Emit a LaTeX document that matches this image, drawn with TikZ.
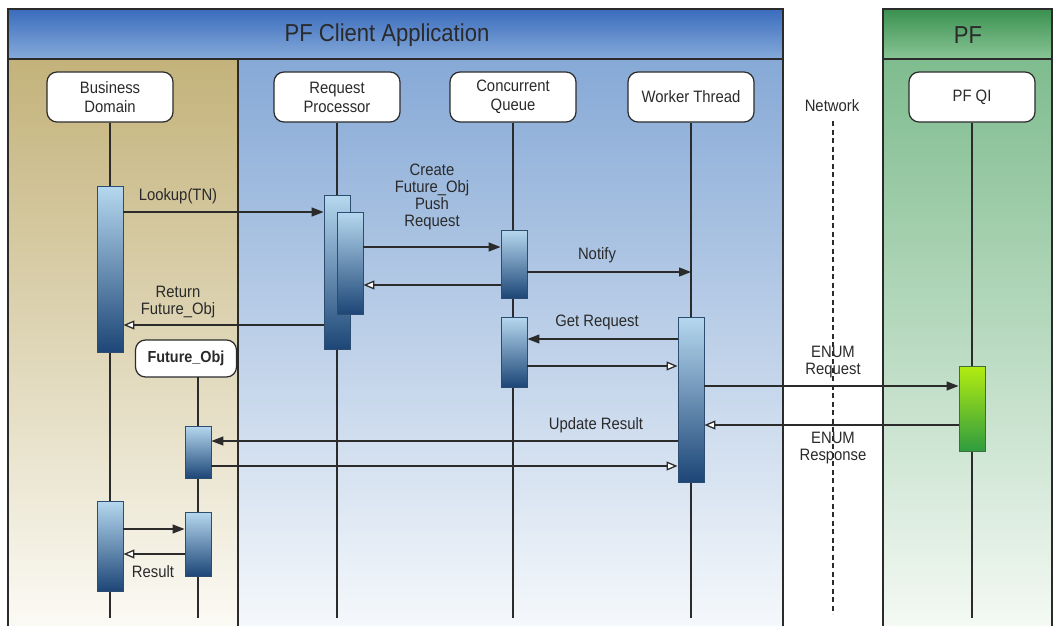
\documentclass[tikz,border=0pt]{standalone}
\usepackage{fontspec}
\setmainfont{Liberation Sans}[FakeStretch=0.9]
\usetikzlibrary{arrows.meta,calc}
\definecolor{linec}{HTML}{2B2B2B}
\definecolor{txt}{HTML}{2A2A2A}
\definecolor{hbTop}{HTML}{3A6CBD}
\definecolor{hbBot}{HTML}{86ABDA}
\definecolor{rbTop}{HTML}{86A9D6}
\definecolor{rbBot}{HTML}{F5F8FB}
\definecolor{tanTop}{HTML}{C3B27A}
\definecolor{tanBot}{HTML}{FBFAF4}
\definecolor{hgTop}{HTML}{3A9150}
\definecolor{hgBot}{HTML}{8AC596}
\definecolor{rgTop}{HTML}{7FBC8E}
\definecolor{rgBot}{HTML}{F4F9F4}
\definecolor{barTop}{HTML}{B6D8EF}
\definecolor{barBot}{HTML}{1D4677}
\definecolor{barEdge}{HTML}{2D4D70}
\definecolor{pfTop}{HTML}{B3EC10}
\definecolor{pfBot}{HTML}{2F9C40}
\definecolor{pfEdge}{HTML}{3C6E3C}
\begin{document}
\begin{tikzpicture}[x=1pt,y=-1pt,
  lbl/.style={font=\fontsize{16.5}{17}\selectfont, text=txt, align=center, inner sep=0pt},
  headbox/.style={draw=linec, fill=white, rounded corners=10pt, minimum width=126pt, minimum height=50pt, line width=1.2pt, font=\fontsize{16.5}{19}\selectfont, text=txt, align=center},
  bar/.style={draw=barEdge, top color=barTop, bottom color=barBot, minimum width=26pt, inner sep=0pt, line width=0.9pt},
  pfbar/.style={draw=pfEdge, top color=pfTop, bottom color=pfBot, minimum width=26pt, inner sep=0pt, line width=0.9pt},
  msg/.style={draw=linec, line width=1.3pt, -{Triangle[length=12pt,width=9pt]}},
  ret/.style={draw=linec, line width=1.3pt, -{Triangle[open,length=11pt,width=9pt,fill=white]}},
  life/.style={draw=linec, line width=1.2pt},
  border/.style={draw=linec, line width=1.4pt}]
\useasboundingbox (0,0) rectangle (1053,626);
% regions
\shade[top color=tanTop, bottom color=tanBot] (8,59) rectangle (238,626);
\shade[top color=rbTop, bottom color=rbBot] (238,59) rectangle (783,626);
\shade[top color=rgTop, bottom color=rgBot] (883,59) rectangle (1052,626);
\draw[border] (8,59) -- (8,626) (238,59) -- (238,626) (783,59) -- (783,626) (883,59) -- (883,626) (1052,59) -- (1052,626);
% headers
\shade[top color=hbTop, bottom color=hbBot, draw=linec, line width=1.4pt] (8,9) rectangle (783,59);
\shade[top color=hgTop, bottom color=hgBot, draw=linec, line width=1.4pt] (883,9) rectangle (1052,59);
\node[font=\fontsize{24.5}{26}\selectfont, text=txt] (hdr) at (387,35) {PF Client Application};
\node[font=\fontsize{24.5}{26}\selectfont, text=txt] (hdrpf) at (968,35) {PF};
% lifeline heads
\node[headbox] (bdh) at (110,97) {Business\\Domain};
\node[headbox] (rph) at (337,97) {Request\\Processor};
\node[headbox] (cqh) at (513,97) {Concurrent\\Queue};
\node[headbox] (wth) at (691,97) {Worker Thread};
\node[headbox] (pfh) at (972,97) {PF QI};
\node[lbl] (net) at (832,106) {Network};
\node[headbox, minimum width=101pt, minimum height=37pt, font=\bfseries\fontsize{16}{17}\selectfont] (foh) at (186,358.5) {Future\_Obj};
% helper coordinates
\coordinate (fox) at (198,377);
\coordinate (nettop) at (833,121);
\coordinate (netbot) at (833,614);
% lifelines
\draw[life] (bdh.south) -- (bdh.south |- 0,618);
\draw[life] (rph.south) -- (rph.south |- 0,618);
\draw[life] (cqh.south) -- (cqh.south |- 0,618);
\draw[life] (wth.south) -- (wth.south |- 0,618);
\draw[life] (pfh.south) -- (pfh.south |- 0,618);
\draw[life] (fox) -- (fox |- 0,618);
\draw[linec, line width=1.5pt, dash pattern=on 5pt off 3.5pt] (nettop) -- (netbot);
% bars
\node[bar, minimum height=166pt] (bd1) at (110,269) {};
\node[bar, minimum height=154pt] (rpo) at (337,272) {};
\node[bar, minimum height=102pt] (rpi) at (350,263) {};
\node[bar, minimum height=68pt] (cq1) at (514,264) {};
\node[bar, minimum height=70pt] (cq2) at (514,352) {};
\node[bar, minimum height=165pt] (wt) at (691,399.5) {};
\node[pfbar, minimum height=85pt] (pf) at (972,408.5) {};
\node[bar, minimum height=52pt] (fo1) at (198,452) {};
\node[bar, minimum height=64pt] (fo2) at (198,544) {};
\node[bar, minimum height=90pt] (bd2) at (110,546) {};
% messages
\draw[msg] (bd1.east |- 0,212) -- (rpo.west |- 0,212);
\node[lbl] (l1) at (178,196) {Lookup(TN)};
\draw[msg] (rpi.east |- 0,247) -- (cq1.west |- 0,247);
\node[lbl] (l2) at (432,196.5) {Create\\Future\_Obj\\Push\\Request};
\draw[ret] (cq1.west |- 0,285) -- (rpi.east |- 0,285);
\draw[msg] (cq1.east |- 0,272) -- (wth.south |- 0,272);
\node[lbl] (l3) at (597,255) {Notify};
\draw[ret] (rpo.west |- 0,325) -- (bd1.east |- 0,325);
\node[lbl] (l4) at (178,302) {Return\\Future\_Obj};
\draw[msg] (wt.west |- 0,339) -- (cq2.east |- 0,339);
\node[lbl] (l5) at (597,322) {Get Request};
\draw[ret] (cq2.east |- 0,366) -- (wt.west |- 0,366);
\draw[msg] (wt.east |- 0,386) -- (pf.west |- 0,386);
\node[lbl] (l6) at (833,362.5) {ENUM\\Request};
\draw[ret] (pf.west |- 0,425) -- (wt.east |- 0,425);
\node[lbl] (l7) at (833,448.5) {ENUM\\Response};
\draw[msg] (wt.west |- 0,441) -- (fo1.east |- 0,441);
\node[lbl] (l8) at (596,425) {Update Result};
\draw[ret] (fo1.east |- 0,466) -- (wt.west |- 0,466);
\draw[msg] (bd2.east |- 0,529) -- (fo2.west |- 0,529);
\draw[ret] (fo2.west |- 0,554) -- (bd2.east |- 0,554);
\node[lbl] (l9) at (153,572) {Result};
\end{tikzpicture}
\end{document}
